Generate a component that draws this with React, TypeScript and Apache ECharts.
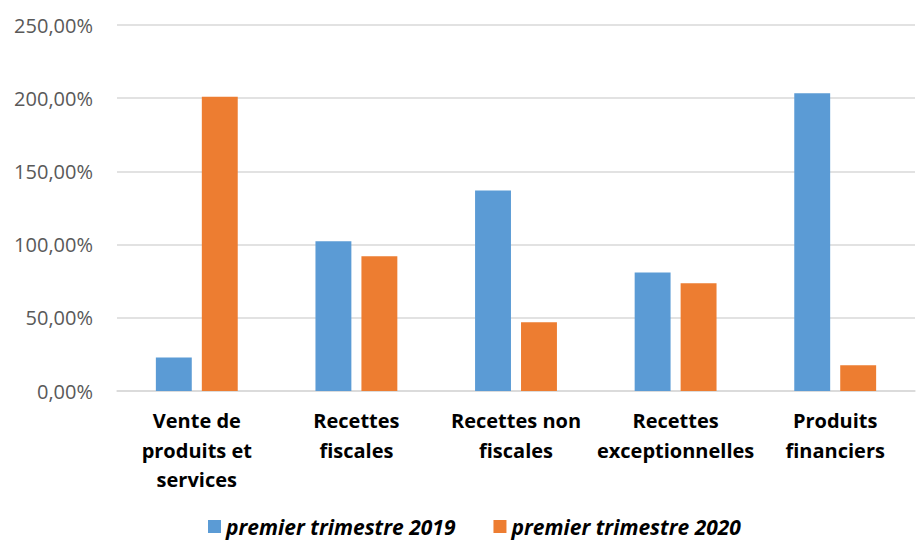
import React, { useEffect, useRef } from "react";
import * as echarts from "echarts";

const categories = [
  "Vente de\nproduits et\nservices",
  "Recettes\nfiscales",
  "Recettes non\nfiscales",
  "Recettes\nexceptionnelles",
  "Produits\nfinanciers",
];
const seriesNames = ["premier trimestre 2019", "premier trimestre 2020"];
const values2019 = [22.8, 102.3, 137.0, 80.9, 203.3];
const values2020 = [201.0, 92.1, 47.0, 73.6, 17.6];
const colors = ["#5B9BD5", "#ED7D31"];

export default function App() {
  const ref = useRef<HTMLDivElement>(null);
  useEffect(() => {
    if (!ref.current) return;
    const chart = echarts.init(ref.current, undefined, { renderer: "svg" });
    const font = "'Open Sans', 'Noto Sans', sans-serif";
    chart.setOption({
      animation: false,
      textStyle: { fontFamily: font },
      grid: { left: 117, right: 1, top: 25, bottom: 151 },
      legend: {
        top: 516,
        left: 208,
        itemWidth: 13,
        itemHeight: 13,
        itemGap: 38,
        icon: "rect",
        padding: 0,
        textStyle: {
          fontFamily: font,
          fontSize: 21,
          fontWeight: "bold",
          fontStyle: "italic",
          color: "#000",
        },
        data: seriesNames,
      },
      xAxis: {
        type: "category",
        data: categories,
        axisLine: { lineStyle: { color: "#D9D9D9", width: 1.5 } },
        axisTick: { show: false },
        axisLabel: {
          interval: 0,
          margin: 15,
          lineHeight: 29.5,
          fontSize: 20,
          fontWeight: "bold",
          color: "#000",
          fontFamily: font,
        },
      },
      yAxis: {
        type: "value",
        min: 0,
        max: 250,
        interval: 50,
        axisLine: { show: false },
        axisTick: { show: false },
        splitLine: { lineStyle: { color: "#D9D9D9", width: 1.5 } },
        axisLabel: {
          margin: 24,
          fontSize: 20,
          color: "#595959",
          fontFamily: font,
          formatter: (v: number) => v.toFixed(2).replace(".", ",") + "%",
        },
      },
      series: [
        {
          name: seriesNames[0],
          type: "bar",
          data: values2019,
          barWidth: "22.5%",
          barGap: "28%",
          itemStyle: { color: colors[0] },
        },
        {
          name: seriesNames[1],
          type: "bar",
          data: values2020,
          barWidth: "22.5%",
          barGap: "28%",
          itemStyle: { color: colors[1] },
        },
      ],
    });
    return () => chart.dispose();
  }, []);
  return <div ref={ref} style={{ width: 916, height: 542, position: "absolute", left: 0, top: 0 }} />;
}
